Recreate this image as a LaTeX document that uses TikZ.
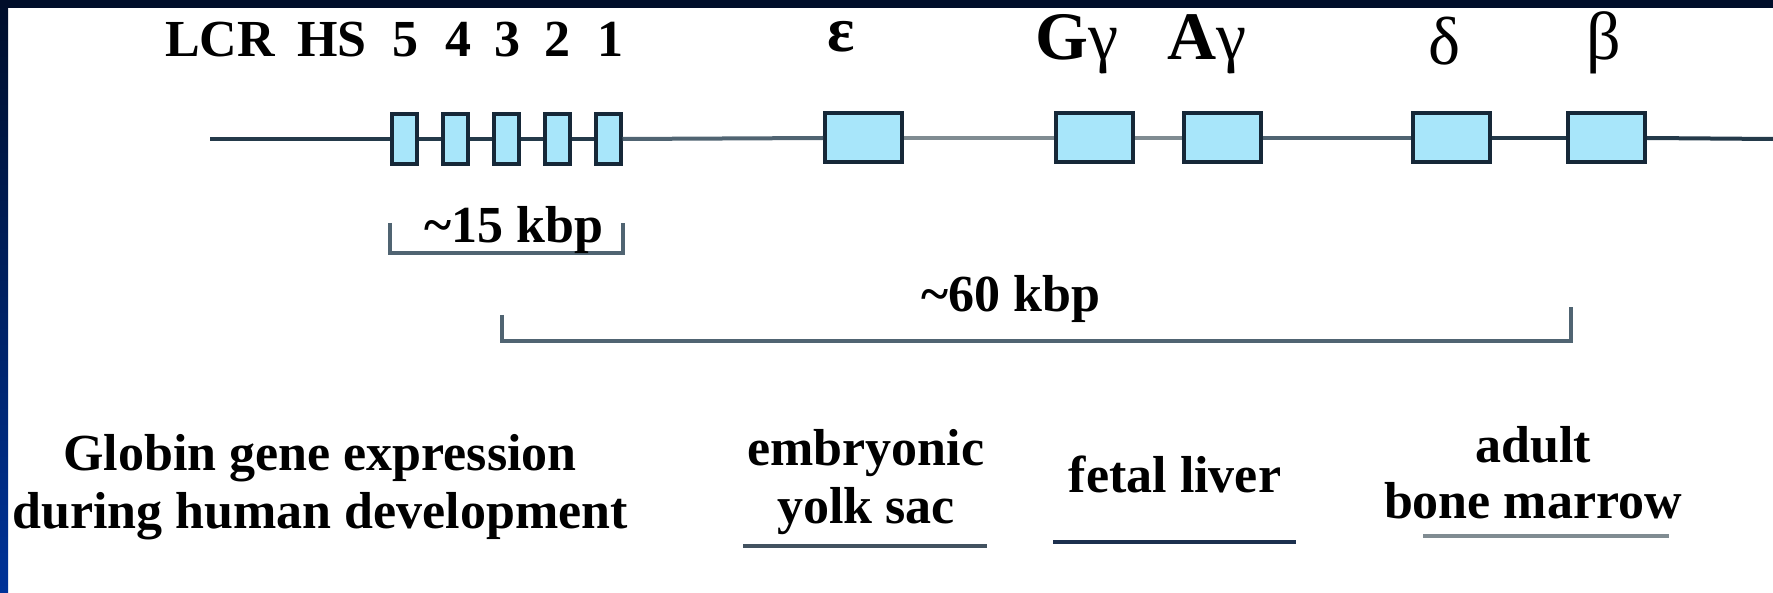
\documentclass[tikz,border=0pt]{standalone}
\usepackage{fontspec}
\setmainfont{Liberation Serif}
\definecolor{frameTop}{RGB}{0,14,42}
\definecolor{frameBot}{RGB}{0,51,153}
\definecolor{boxFill}{RGB}{168,230,250}
\definecolor{boxDraw}{RGB}{22,40,56}
\definecolor{lineDark}{RGB}{36,58,74}
\definecolor{lineMid}{RGB}{80,100,114}
\definecolor{lineGray}{RGB}{128,140,146}
\definecolor{ulDark}{RGB}{28,48,78}
\definecolor{ulMid}{RGB}{66,82,96}
\begin{document}
\begin{tikzpicture}[x=0.5pt,y=-0.5pt,
  hsbox/.style={draw=boxDraw, fill=boxFill, line width=2pt, inner sep=0,
    minimum width=12.5pt, minimum height=25pt},
  genebox/.style={draw=boxDraw, fill=boxFill, line width=2pt, inner sep=0,
    minimum width=38.5pt, minimum height=24.5pt},
  lbl/.style={font=\bfseries\fontsize{26}{29}\selectfont, inner sep=0, anchor=base, text=black},
  greek/.style={font=\fontsize{34}{38}\selectfont, inner sep=0, anchor=base, text=black},
  bb/.style={line width=2pt},
  brk/.style={line width=1.8pt, color=lineMid},
  ul/.style={line width=1.8pt}]
\useasboundingbox (0,0) rectangle (1773,593);
\fill[white] (0,0) rectangle (1773,593);
% frame
\shade[top color=frameTop, bottom color=frameBot] (0,0) rectangle (8,593);
\fill[frameTop] (0,0) rectangle (1773,8);

% labels
\node[lbl] (lcr) at (220,57) {LCR};
\node[lbl] (hs) at (332,57) {HS};
\node[lbl] (n5) at (405,57) {5};
\node[lbl] (n4) at (458,57) {4};
\node[lbl] (n3) at (507,57) {3};
\node[lbl] (n2) at (557,57) {2};
\node[lbl] (n1) at (610,57) {1};
\node[greek, font=\bfseries\fontsize{32}{36}\selectfont] (leps) at (841,52) {ε};
\node[greek] (lgg) at (1077,60) {\textbf{G}γ};
\node[greek] (lag) at (1207,60) {\textbf{A}γ};
\node[greek] (ldel) at (1445,65) {δ};
\node[greek] (lbet) at (1604,60) {β};

% boxes
\node[hsbox] (h5) at (404,139) {};
\node[hsbox] (h4) at (455,139) {};
\node[hsbox] (h3) at (506,139) {};
\node[hsbox] (h2) at (557,139) {};
\node[hsbox] (h1) at (608,139) {};
\node[genebox] (eps) at (863.5,138) {};
\node[genebox] (gg) at (1094.5,138) {};
\node[genebox] (ag) at (1222.5,138) {};
\node[genebox] (del) at (1451.5,138) {};
\node[genebox] (bet) at (1606.5,138) {};

% backbone
\coordinate (bbstart) at (210,139);
\coordinate (bbend) at (1773,139);
\draw[bb, lineDark] (bbstart) -- (h5.west);
\draw[bb, lineDark] (h5.east) -- (h4.west);
\draw[bb, lineDark] (h4.east) -- (h3.west);
\draw[bb, lineDark] (h3.east) -- (h2.west);
\draw[bb, lineDark] (h2.east) -- (h1.west);
\draw[bb, lineMid] (h1.east) -- (eps.west);
\draw[bb, lineGray] (eps.east) -- (gg.west);
\draw[bb, lineGray] (gg.east) -- (ag.west);
\draw[bb, lineMid] (ag.east) -- (del.west);
\draw[bb, lineDark] (del.east) -- (bet.west);
\draw[bb, lineDark] (bet.east) -- (bbend);

% 15 kbp bracket
\coordinate (a1) at (390,223);
\coordinate (a2) at (390,253);
\coordinate (a3) at (623,253);
\coordinate (a4) at (623,223);
\draw[brk] (a1) -- (a2) -- (a3) -- (a4);
\node[lbl] (k15) at (514,243) {\textasciitilde15 kbp};

% 60 kbp bracket
\coordinate (b1) at (502,315);
\coordinate (b2) at (502,341);
\coordinate (b3) at (1571,341);
\coordinate (b4) at (1571,307);
\draw[brk] (b1) -- (b2) -- (b3) -- (b4);
\node[lbl] (k60) at (1011,312) {\textasciitilde60 kbp};

% bottom texts
\node[lbl] (g1) at (320,470) {Globin gene expression};
\node[lbl] (g2) at (320,528) {during human development};
\node[lbl] (e1) at (866,465) {embryonic};
\node[lbl] (e2) at (866,523) {yolk sac};
\node[lbl] (f1) at (1175,492) {fetal liver};
\node[lbl] (a5) at (1533,462) {adult};
\node[lbl] (a6) at (1533,518) {bone marrow};

% underlines
\coordinate (u1a) at (743,546);
\coordinate (u1b) at (987,546);
\coordinate (u2a) at (1053,542);
\coordinate (u2b) at (1296,542);
\coordinate (u3a) at (1423,536);
\coordinate (u3b) at (1669,536);
\draw[ul, ulMid] (u1a) -- (u1b);
\draw[ul, ulDark] (u2a) -- (u2b);
\draw[ul, lineGray] (u3a) -- (u3b);
\end{tikzpicture}
\end{document}
